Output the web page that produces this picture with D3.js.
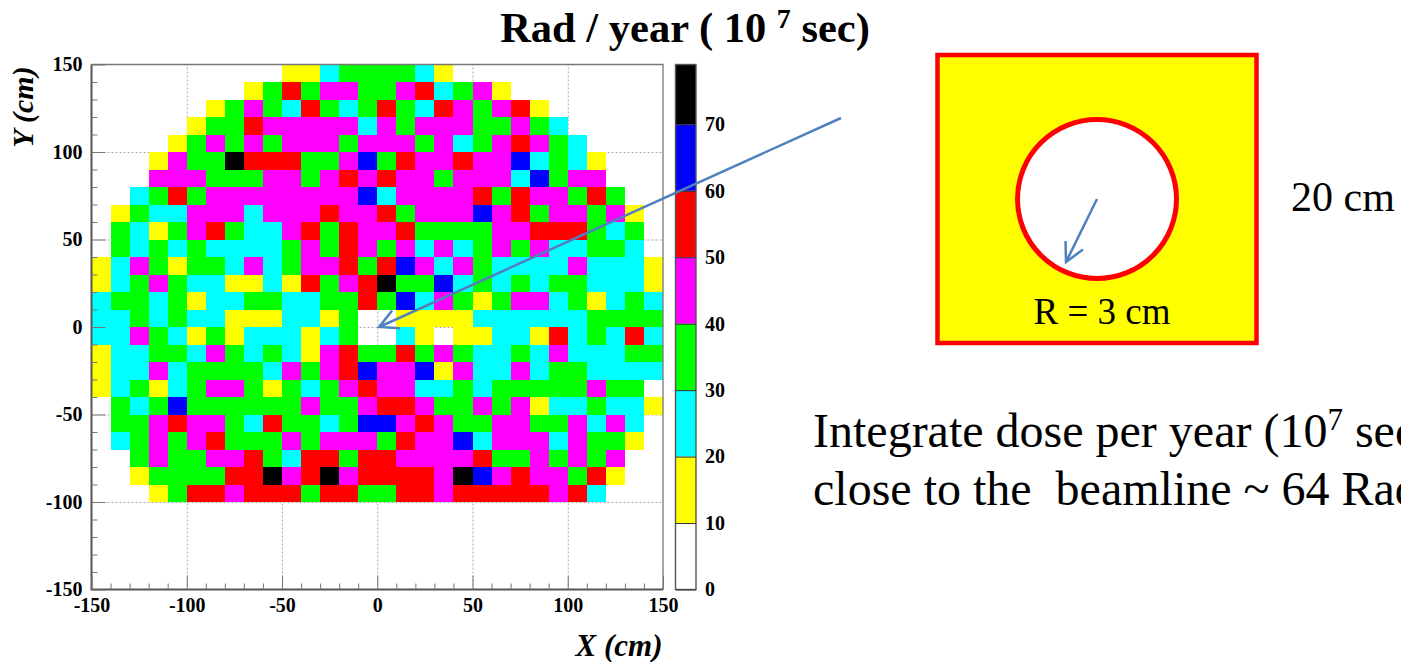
<!DOCTYPE html>
<html>
<head>
<meta charset="utf-8">
<script src="https://cdn.jsdelivr.net/npm/d3@7"></script>
<style>
  html, body { margin: 0; padding: 0; background: #fff; overflow: hidden; }
  svg { display: block; }
  text { font-family: "Liberation Serif", serif; fill: #000; }
  .tick-label text { font-weight: bold; font-size: 20px; }
</style>
</head>
<body>
<svg id="chart" width="1401" height="662"></svg>
<script>
// Dose band of each 10x10 cm cell, top row (y = 140..150) first, x = -150 on the left.
// One digit per cell: band n means n*10 .. n*10+10 Rad / year
const doseBands = [
  "000000000011233332100000000000",
  "000000001353443345234100000000",
  "000000134325323532543451000000",
  "000001335444442434443343200000",
  "000013434344434443423454320000",
  "000143375553346354454462321000",
  "000444333443454544344426344000",
  "002353444444446244445354435300",
  "013224442444544534446453443410",
  "032134532245354453333445553230",
  "032323222234354342423434223320",
  "124313324234453564243222242221",
  "123432211215345733623232332221",
  "233231223322335362431344231232",
  "223232211122130011112222223333",
  "224321312221230021011221523252",
  "122332432321453353432232422233",
  "122423333243456446142242332222",
  "123123443132345442232333334330",
  "032363333334334554334341223221",
  "033454432533236645433443342420",
  "023434533343444354462444243310",
  "003433445325535544445334343400",
  "001333355745745555476454435100",
  "000135545553553355455555452000"
];
const binSize = 10;

const bandEdges = [10, 20, 30, 40, 50, 60, 70];
const bandColors = ["#ffffff", "#ffff00", "#00ffff", "#00ff00", "#ff00ff", "#ff0000", "#0000ff", "#000000"];
const doseMax = 79;

const xTicks = [-150, -100, -50, 0, 50, 100, 150];
const yTicks = [-150, -100, -50, 0, 50, 100, 150];
const doseTicks = [0, 10, 20, 30, 40, 50, 60, 70];

const svg = d3.select("#chart");

const plot = { left: 91.5, right: 663, top: 64.5, bottom: 589.5 };
const barBox = { left: 675.5, right: 696, top: 64.5, bottom: 589.5 };

const x = d3.scaleLinear().domain([-150, 150]).range([plot.left, plot.right]);
const y = d3.scaleLinear().domain([-150, 150]).range([plot.bottom, plot.top]);
const doseY = d3.scaleLinear().domain([0, doseMax]).range([barBox.bottom, barBox.top]);
const bandColor = d3.scaleThreshold().domain(bandEdges).range(bandColors);

// Plain hyphen on the labels, like the original
const plainLabel = d => String(d);

// Dotted grid goes under the cells
svg.append("g")
  .attr("transform", `translate(0,${plot.bottom})`)
  .call(d3.axisBottom(x).tickValues(xTicks.slice(1, -1)).tickSize(plot.top - plot.bottom).tickFormat(""))
  .call(g => g.select(".domain").remove())
  .selectAll("line")
  .attr("stroke", "#aaa")
  .attr("stroke-dasharray", "2,2");

svg.append("g")
  .attr("transform", `translate(${plot.left},0)`)
  .call(d3.axisLeft(y).tickValues(yTicks.slice(1, -1)).tickSize(plot.left - plot.right).tickFormat(""))
  .call(g => g.select(".domain").remove())
  .selectAll("line")
  .attr("stroke", "#aaa")
  .attr("stroke-dasharray", "2,2");

// Flatten the rows into cells
const cells = [];
doseBands.forEach((row, r) => {
  row.split("").forEach((band, c) => {
    if (+band > 0) {
      cells.push({ x0: -150 + c * binSize, y1: 150 - r * binSize, dose: +band * 10 + 5 });
    }
  });
});

svg.append("g").selectAll("rect")
  .data(cells)
  .enter().append("rect")
  .attr("x", d => x(d.x0))
  .attr("y", d => y(d.y1))
  .attr("width", x(binSize) - x(0))
  .attr("height", y(0) - y(binSize))
  .attr("fill", d => bandColor(d.dose))
  .attr("shape-rendering", "crispEdges");

// Frame, darker on the axis sides
const frame = svg.append("g").attr("fill", "none");
frame.append("path")
  .attr("d", `M${plot.left},${plot.top}H${plot.right}V${plot.bottom}`)
  .attr("stroke", "#777")
  .attr("stroke-width", 1.3);
frame.append("path")
  .attr("d", `M${plot.left},${plot.top}V${plot.bottom}H${plot.right}`)
  .attr("stroke", "#555")
  .attr("stroke-width", 2);

// Minor ticks every 10 cm, major ones from the tick lists
const minorTicks = d3.range(-140, 150, 10).filter(v => v % 50 !== 0);

function inwardTicks(g) {
  g.select(".domain").remove();
  g.selectAll("line").attr("stroke", "#777");
}

svg.append("g")
  .attr("transform", `translate(0,${plot.bottom})`)
  .call(d3.axisTop(x).tickValues(minorTicks).tickSize(6).tickFormat(""))
  .call(inwardTicks);
svg.append("g")
  .attr("transform", `translate(${plot.left},0)`)
  .call(d3.axisRight(y).tickValues(minorTicks).tickSize(6).tickFormat(""))
  .call(inwardTicks);

svg.append("g")
  .attr("class", "tick-label")
  .attr("transform", `translate(0,${plot.bottom})`)
  .call(d3.axisBottom(x).tickValues(xTicks).tickFormat(plainLabel).tickSizeInner(-14).tickSizeOuter(0).tickPadding(8))
  .call(inwardTicks)
  .selectAll("text")
  .attr("font-family", null)
  .attr("font-size", null);

svg.append("g")
  .attr("class", "tick-label")
  .attr("transform", `translate(${plot.left},0)`)
  .call(d3.axisLeft(y).tickValues(yTicks).tickFormat(plainLabel).tickSizeInner(-14).tickSizeOuter(0).tickPadding(9))
  .call(inwardTicks)
  .selectAll("text")
  .attr("font-family", null)
  .attr("font-size", null);

svg.append("text")
  .attr("x", 619)
  .attr("y", 656)
  .attr("text-anchor", "middle")
  .attr("font-size", 31)
  .attr("font-weight", "bold")
  .attr("font-style", "italic")
  .text("X (cm)");

svg.append("text")
  .attr("transform", "translate(33,107) rotate(-90)")
  .attr("text-anchor", "middle")
  .attr("font-size", 30)
  .attr("font-weight", "bold")
  .attr("font-style", "italic")
  .text("Y (cm)");

// Colour bar
const bandLimits = [0].concat(bandEdges, [doseMax]);
svg.append("g").selectAll("rect")
  .data(bandColors)
  .enter().append("rect")
  .attr("x", barBox.left)
  .attr("y", (d, i) => doseY(bandLimits[i + 1]))
  .attr("width", barBox.right - barBox.left)
  .attr("height", (d, i) => doseY(bandLimits[i]) - doseY(bandLimits[i + 1]))
  .attr("fill", d => d);

svg.append("rect")
  .attr("x", barBox.left)
  .attr("y", barBox.top)
  .attr("width", barBox.right - barBox.left)
  .attr("height", barBox.bottom - barBox.top)
  .attr("fill", "none")
  .attr("stroke", "#555")
  .attr("stroke-width", 1.4);

svg.append("g")
  .attr("class", "tick-label")
  .attr("transform", `translate(${barBox.right},0)`)
  .call(d3.axisRight(doseY).tickValues(doseTicks).tickFormat(plainLabel).tickSizeInner(barBox.left - barBox.right).tickSizeOuter(0).tickPadding(9))
  .call(g => g.select(".domain").remove())
  .call(g => g.selectAll("line").attr("stroke", "#333"))
  .selectAll("text")
  .attr("font-family", null)
  .attr("font-size", null);

// Title with raised exponent
const title = svg.append("text")
  .attr("x", 685)
  .attr("y", 42)
  .attr("text-anchor", "middle")
  .attr("font-size", 42.5)
  .attr("font-weight", "bold");
title.append("tspan").text("Rad / year ( 10 ");
title.append("tspan").attr("font-size", 28).attr("dy", -14).text("7");
title.append("tspan").attr("dy", 14).text(" sec)");

// Beam pipe sketch on the right
svg.append("rect")
  .attr("x", 937.5)
  .attr("y", 55)
  .attr("width", 319)
  .attr("height", 288)
  .attr("fill", "#ffff00")
  .attr("stroke", "#ff0000")
  .attr("stroke-width", 4.5);

svg.append("circle")
  .attr("cx", 1097)
  .attr("cy", 199)
  .attr("r", 79.5)
  .attr("fill", "#fff")
  .attr("stroke", "#ff0000")
  .attr("stroke-width", 5);

svg.append("text")
  .attr("x", 1102)
  .attr("y", 324)
  .attr("text-anchor", "middle")
  .attr("font-size", 37)
  .text("R = 3 cm");

svg.append("text")
  .attr("x", 1291)
  .attr("y", 211)
  .attr("font-size", 42)
  .text("20 cm");

const note = svg.append("text")
  .attr("x", 813)
  .attr("y", 447)
  .attr("font-size", 48);
note.append("tspan").text("Integrate dose per year (10");
note.append("tspan").attr("font-size", 31).attr("dy", -17).text("7");
note.append("tspan").attr("dy", 17).text(" sec)");

svg.append("text")
  .attr("x", 813)
  .attr("y", 505)
  .attr("font-size", 48)
  .style("white-space", "pre")
  .text("close to the  beamline ~ 64 Rad/year");

// Blue callout arrows
const arrowBlue = "#4f81bd";

function drawArrow(from, to) {
  const angle = Math.atan2(from[1] - to[1], from[0] - to[0]);
  const barb = a => [to[0] + 21 * Math.cos(angle + a), to[1] + 21 * Math.sin(angle + a)];
  svg.append("path")
    .attr("d", d3.line()([from, to]) + d3.line()([barb(0.48), to, barb(-0.48)]))
    .attr("fill", "none")
    .attr("stroke", arrowBlue)
    .attr("stroke-width", 2.5);
}

drawArrow([841, 118], [x(1), y(0)]);
drawArrow([1097, 199], [1066, 262]);
</script>
</body>
</html>
